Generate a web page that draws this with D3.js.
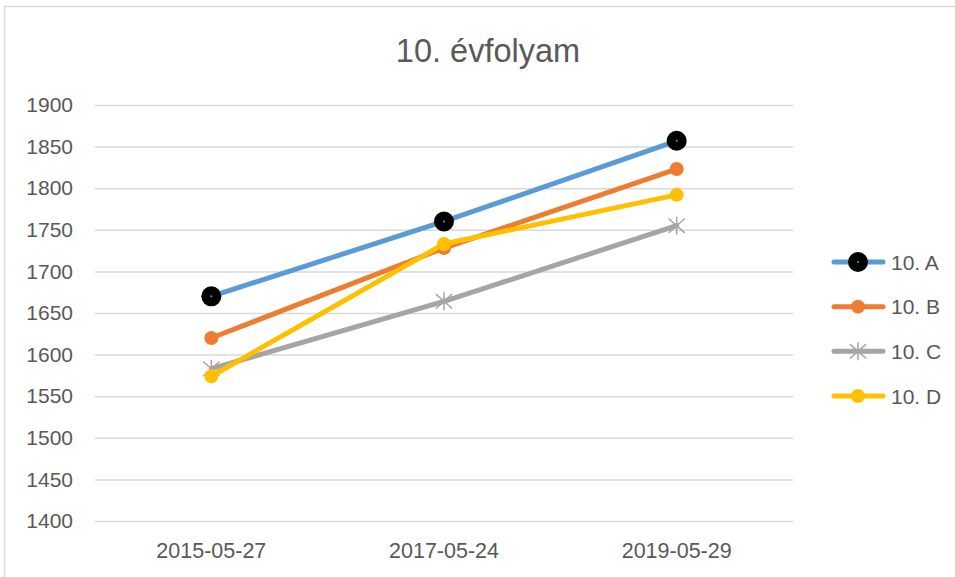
<!DOCTYPE html>
<html>
<head>
<meta charset="utf-8">
<script src="https://cdn.jsdelivr.net/npm/d3@7"></script>
<style>
  body { margin: 0; background: #fff; }
  svg text { font-family: "Liberation Sans", Arial, sans-serif; fill: #595959; }
</style>
</head>
<body>
<svg id="chart" width="955" height="577"></svg>
<script>
// adatok
var datumok = ["2015-05-27", "2017-05-24", "2019-05-29"];
var osztalyok = ["10. A", "10. B", "10. C", "10. D"];
var ertekA = [1670, 1760, 1857];
var ertekB = [1620, 1728, 1823];
var ertekC = [1583, 1664, 1755];
var ertekD = [1574, 1733, 1792];
var yTicks = [1400, 1450, 1500, 1550, 1600, 1650, 1700, 1750, 1800, 1850, 1900];
var szinek = ["#5B9BD5", "#ED7D31", "#A5A5A5", "#FFC000"];

var sorozatok = [ertekA, ertekB, ertekC, ertekD];

var svg = d3.select("#chart");

// keret
svg.append("rect")
  .attr("x", 4.5).attr("y", 6.5)
  .attr("width", 1000).attr("height", 700)
  .attr("fill", "none").attr("stroke", "#D9D9D9").attr("stroke-width", 1.5);

var pLeft = 95, pRight = 793, pTop = 105, pBottom = 521;

var x = d3.scaleBand().domain(datumok).range([pLeft, pRight]);
var y = d3.scaleLinear().domain([1400, 1900]).range([pBottom, pTop]);

// cim
svg.append("text")
  .attr("x", 488).attr("y", 62)
  .attr("text-anchor", "middle")
  .style("font-size", "32.5px")
  .text("10. évfolyam");

// y tengely + racs
var yAxis = d3.axisLeft(y).tickValues(yTicks).tickFormat(d3.format("d"))
  .tickSize(-(pRight - pLeft)).tickPadding(22);
var gy = svg.append("g").attr("transform", "translate(" + pLeft + ",0)").call(yAxis);
gy.select(".domain").remove();
gy.attr("font-family", null);
gy.selectAll(".tick line").attr("stroke", "#D9D9D9").attr("stroke-width", 1.5);
gy.selectAll(".tick text").style("font-size", "21px").attr("fill", "#595959");

// x tengely
var xAxis = d3.axisBottom(x).tickSize(0).tickPadding(22);
var gx = svg.append("g").attr("transform", "translate(0," + pBottom + ")").call(xAxis);
gx.select(".domain").remove();
gx.attr("font-family", null);
gx.selectAll(".tick text").style("font-size", "21.5px").attr("fill", "#595959");

var cx = function(d, i) { return x(datumok[i]) + x.bandwidth() / 2; };

var vonal = d3.line()
  .x(function(d, i) { return cx(d, i); })
  .y(function(d) { return y(d); });

function jelolo(g, k, px, py) {
  if (k == 0) {
    g.append("circle").attr("cx", px).attr("cy", py).attr("r", 10).attr("fill", "#000");
    g.append("circle").attr("cx", px).attr("cy", py).attr("r", 1).attr("fill", szinek[0]);
  } else if (k == 2) {
    var s = 9;
    var vonalak = [[0, -s, 0, s], [-s * 0.9, -s * 0.8, s * 0.9, s * 0.8], [-s * 0.9, s * 0.8, s * 0.9, -s * 0.8]];
    vonalak.forEach(function(v) {
      g.append("line")
        .attr("x1", px + v[0]).attr("y1", py + v[1])
        .attr("x2", px + v[2]).attr("y2", py + v[3])
        .attr("stroke", szinek[2]).attr("stroke-width", 1.5);
    });
  } else {
    g.append("circle").attr("cx", px).attr("cy", py).attr("r", 7).attr("fill", szinek[k]);
  }
}

// vonalak
sorozatok.forEach(function(s, k) {
  var g = svg.append("g");
  g.append("path")
    .datum(s)
    .attr("d", vonal)
    .attr("fill", "none")
    .attr("stroke", szinek[k])
    .attr("stroke-width", 5)
    .attr("stroke-linecap", "round");
  s.forEach(function(d, i) { jelolo(g, k, cx(d, i), y(d)); });
});

// jelmagyarazat
var legY = d3.scalePoint().domain(osztalyok).range([262, 396]);
osztalyok.forEach(function(nev, k) {
  var g = svg.append("g");
  var ly = legY(nev);
  g.append("line")
    .attr("x1", 834).attr("x2", 883).attr("y1", ly).attr("y2", ly)
    .attr("stroke", szinek[k]).attr("stroke-width", 5).attr("stroke-linecap", "round");
  jelolo(g, k, 858, ly);
  g.append("text").attr("x", 891).attr("y", ly + 7.5)
    .style("font-size", "21px").text(nev);
});
</script>
</body>
</html>
